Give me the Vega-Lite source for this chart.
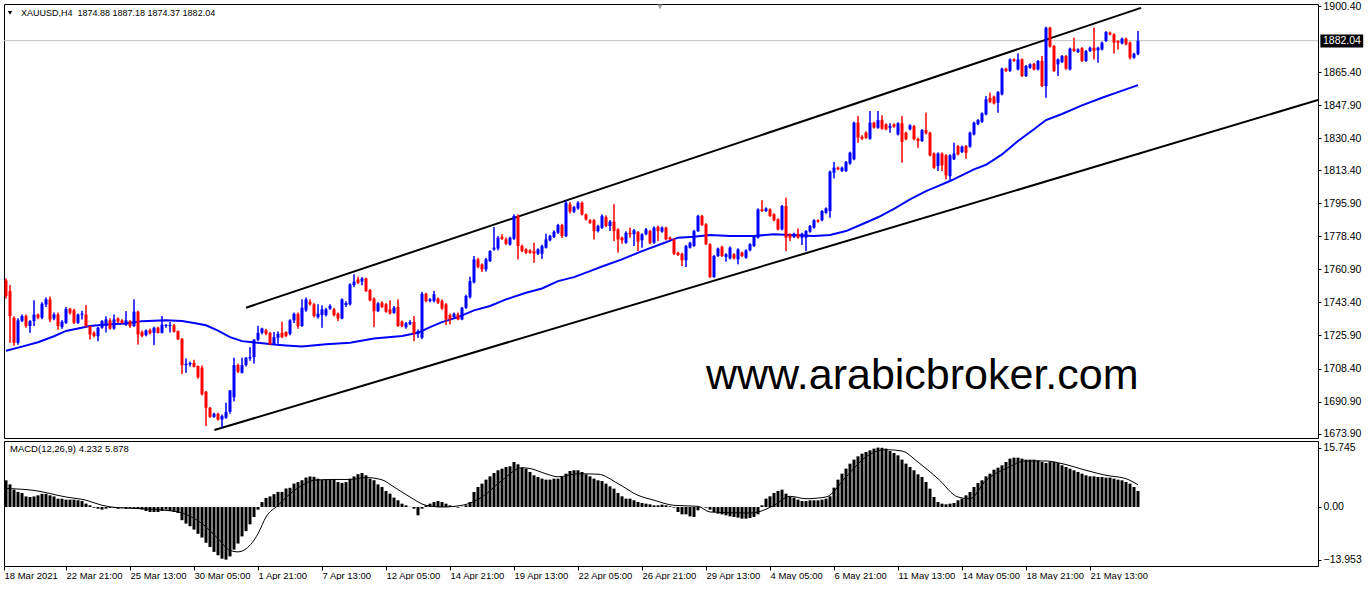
{
  "$schema": "https://vega.github.io/schema/vega-lite/v6.json",
  "background": "white",
  "padding": {"left": 1, "top": 0, "right": 0, "bottom": 0},
  "spacing": 3,
  "bounds": "flush",
  "config": {
    "view": {"stroke": "black", "strokeWidth": 1},
    "font": "Liberation Sans",
    "scale": {"continuousPadding": 0},
    "axis": {"labelFont": "Liberation Sans", "labelColor": "black", "tickColor": "black", "domain": false, "grid": false, "labelOverlap": false, "labelFlush": false}
  },
  "datasets": {
    "candles": [
{"i":0,"o":1755.1,"h":1756.0,"l":1745.5,"c":1746.8},
{"i":1,"o":1749.4,"h":1752.6,"l":1722.0,"c":1736.2},
{"i":2,"o":1735.3,"h":1736.0,"l":1720.5,"c":1722.0},
{"i":3,"o":1722.0,"h":1735.0,"l":1721.0,"c":1733.9},
{"i":4,"o":1733.5,"h":1737.0,"l":1733.0,"c":1736.2},
{"i":5,"o":1736.2,"h":1737.0,"l":1730.0,"c":1730.9},
{"i":6,"o":1730.9,"h":1734.0,"l":1727.3,"c":1733.5},
{"i":7,"o":1733.5,"h":1744.5,"l":1730.9,"c":1737.0},
{"i":8,"o":1737.0,"h":1737.5,"l":1734.5,"c":1735.3},
{"i":9,"o":1735.3,"h":1743.5,"l":1734.5,"c":1742.7},
{"i":10,"o":1742.3,"h":1746.0,"l":1741.0,"c":1745.0},
{"i":11,"o":1745.0,"h":1746.5,"l":1733.0,"c":1734.4},
{"i":12,"o":1734.9,"h":1738.0,"l":1734.0,"c":1737.0},
{"i":13,"o":1737.0,"h":1738.0,"l":1729.0,"c":1730.9},
{"i":14,"o":1730.3,"h":1734.0,"l":1729.5,"c":1733.2},
{"i":15,"o":1732.6,"h":1741.0,"l":1732.0,"c":1740.0},
{"i":16,"o":1740.0,"h":1740.5,"l":1737.0,"c":1737.9},
{"i":17,"o":1739.2,"h":1740.0,"l":1732.0,"c":1732.6},
{"i":18,"o":1732.6,"h":1737.5,"l":1732.0,"c":1737.0},
{"i":19,"o":1736.9,"h":1739.0,"l":1734.4,"c":1737.5},
{"i":20,"o":1737.0,"h":1742.0,"l":1730.0,"c":1730.9},
{"i":21,"o":1730.9,"h":1731.0,"l":1723.8,"c":1726.4},
{"i":22,"o":1727.3,"h":1728.0,"l":1725.0,"c":1725.6},
{"i":23,"o":1725.6,"h":1730.5,"l":1722.9,"c":1730.0},
{"i":24,"o":1730.0,"h":1734.0,"l":1729.5,"c":1733.5},
{"i":25,"o":1730.9,"h":1736.0,"l":1727.5,"c":1734.4},
{"i":26,"o":1733.9,"h":1735.0,"l":1729.0,"c":1729.6},
{"i":27,"o":1729.6,"h":1737.0,"l":1729.0,"c":1734.4},
{"i":28,"o":1734.9,"h":1735.5,"l":1732.5,"c":1733.2},
{"i":29,"o":1733.9,"h":1734.5,"l":1732.0,"c":1732.6},
{"i":30,"o":1731.7,"h":1738.8,"l":1731.0,"c":1733.9},
{"i":31,"o":1733.5,"h":1734.0,"l":1730.0,"c":1730.9},
{"i":32,"o":1730.9,"h":1745.0,"l":1730.5,"c":1738.5},
{"i":33,"o":1738.5,"h":1739.0,"l":1721.1,"c":1726.4},
{"i":34,"o":1727.7,"h":1728.5,"l":1725.0,"c":1725.6},
{"i":35,"o":1726.1,"h":1729.0,"l":1725.5,"c":1728.6},
{"i":36,"o":1728.7,"h":1729.5,"l":1726.5,"c":1727.0},
{"i":37,"o":1727.3,"h":1730.5,"l":1720.8,"c":1730.0},
{"i":38,"o":1730.0,"h":1730.5,"l":1727.0,"c":1727.3},
{"i":39,"o":1727.3,"h":1736.2,"l":1727.0,"c":1731.7},
{"i":40,"o":1730.9,"h":1732.0,"l":1730.0,"c":1731.5},
{"i":41,"o":1730.9,"h":1733.0,"l":1727.5,"c":1731.5},
{"i":42,"o":1731.2,"h":1732.0,"l":1727.5,"c":1727.9},
{"i":43,"o":1728.2,"h":1728.5,"l":1723.5,"c":1723.8},
{"i":44,"o":1724.2,"h":1724.5,"l":1705.5,"c":1710.2},
{"i":45,"o":1710.2,"h":1713.7,"l":1706.1,"c":1710.9},
{"i":46,"o":1710.6,"h":1712.0,"l":1709.5,"c":1711.4},
{"i":47,"o":1711.4,"h":1713.0,"l":1709.0,"c":1709.3},
{"i":48,"o":1709.7,"h":1710.0,"l":1703.0,"c":1703.8},
{"i":49,"o":1708.8,"h":1710.0,"l":1694.2,"c":1694.7},
{"i":50,"o":1696.1,"h":1696.5,"l":1677.9,"c":1687.6},
{"i":51,"o":1687.6,"h":1688.0,"l":1682.3,"c":1682.8},
{"i":52,"o":1682.8,"h":1685.0,"l":1682.3,"c":1684.4},
{"i":53,"o":1684.4,"h":1684.9,"l":1680.8,"c":1681.4},
{"i":54,"o":1681.4,"h":1684.0,"l":1677.0,"c":1683.2},
{"i":55,"o":1682.3,"h":1690.3,"l":1681.8,"c":1685.5},
{"i":56,"o":1685.5,"h":1697.0,"l":1684.5,"c":1696.8},
{"i":57,"o":1693.2,"h":1714.1,"l":1691.0,"c":1710.2},
{"i":58,"o":1710.2,"h":1711.0,"l":1706.0,"c":1706.7},
{"i":59,"o":1706.1,"h":1714.1,"l":1705.8,"c":1710.2},
{"i":60,"o":1710.2,"h":1714.5,"l":1709.5,"c":1714.1},
{"i":61,"o":1713.7,"h":1719.7,"l":1712.5,"c":1714.4},
{"i":62,"o":1714.4,"h":1724.0,"l":1711.0,"c":1723.6},
{"i":63,"o":1723.6,"h":1731.0,"l":1723.0,"c":1727.3},
{"i":64,"o":1727.3,"h":1730.0,"l":1726.5,"c":1729.6},
{"i":65,"o":1728.6,"h":1729.4,"l":1726.0,"c":1726.8},
{"i":66,"o":1727.3,"h":1727.7,"l":1720.8,"c":1721.1},
{"i":67,"o":1721.5,"h":1727.7,"l":1721.0,"c":1725.0},
{"i":68,"o":1724.7,"h":1728.0,"l":1721.6,"c":1726.8},
{"i":69,"o":1727.3,"h":1733.2,"l":1724.5,"c":1725.0},
{"i":70,"o":1727.7,"h":1728.0,"l":1725.0,"c":1725.6},
{"i":71,"o":1726.8,"h":1734.5,"l":1726.0,"c":1733.9},
{"i":72,"o":1733.9,"h":1738.0,"l":1732.5,"c":1737.4},
{"i":73,"o":1737.4,"h":1738.0,"l":1729.5,"c":1730.9},
{"i":74,"o":1730.9,"h":1745.0,"l":1730.5,"c":1740.6},
{"i":75,"o":1739.2,"h":1746.0,"l":1738.5,"c":1745.0},
{"i":76,"o":1743.6,"h":1745.0,"l":1741.8,"c":1742.4},
{"i":77,"o":1742.4,"h":1743.0,"l":1735.5,"c":1736.2},
{"i":78,"o":1735.6,"h":1742.4,"l":1734.9,"c":1737.4},
{"i":79,"o":1736.7,"h":1741.8,"l":1730.0,"c":1739.7},
{"i":80,"o":1736.7,"h":1740.5,"l":1736.0,"c":1739.7},
{"i":81,"o":1740.1,"h":1742.4,"l":1739.5,"c":1741.6},
{"i":82,"o":1739.7,"h":1740.5,"l":1736.0,"c":1736.7},
{"i":83,"o":1737.4,"h":1738.0,"l":1733.5,"c":1734.9},
{"i":84,"o":1734.9,"h":1745.5,"l":1734.5,"c":1745.0},
{"i":85,"o":1742.0,"h":1744.0,"l":1741.0,"c":1743.1},
{"i":86,"o":1742.4,"h":1753.5,"l":1741.8,"c":1752.9},
{"i":87,"o":1752.6,"h":1758.3,"l":1751.5,"c":1754.4},
{"i":88,"o":1755.6,"h":1757.0,"l":1753.2,"c":1753.8},
{"i":89,"o":1754.4,"h":1756.8,"l":1752.5,"c":1756.1},
{"i":90,"o":1756.1,"h":1756.5,"l":1749.0,"c":1749.4},
{"i":91,"o":1750.0,"h":1750.5,"l":1744.0,"c":1744.5},
{"i":92,"o":1745.4,"h":1746.0,"l":1730.3,"c":1738.8},
{"i":93,"o":1738.8,"h":1743.5,"l":1738.3,"c":1742.9},
{"i":94,"o":1743.2,"h":1744.0,"l":1740.5,"c":1741.0},
{"i":95,"o":1742.4,"h":1743.0,"l":1738.0,"c":1738.5},
{"i":96,"o":1739.7,"h":1744.5,"l":1737.0,"c":1737.6},
{"i":97,"o":1737.8,"h":1741.5,"l":1737.5,"c":1740.6},
{"i":98,"o":1741.0,"h":1745.0,"l":1730.5,"c":1730.9},
{"i":99,"o":1733.2,"h":1733.8,"l":1730.3,"c":1730.9},
{"i":100,"o":1730.3,"h":1733.0,"l":1729.5,"c":1732.3},
{"i":101,"o":1731.8,"h":1734.0,"l":1731.4,"c":1733.0},
{"i":102,"o":1733.0,"h":1736.2,"l":1722.9,"c":1726.8},
{"i":103,"o":1726.8,"h":1729.0,"l":1724.7,"c":1728.2},
{"i":104,"o":1724.7,"h":1749.0,"l":1724.0,"c":1748.0},
{"i":105,"o":1748.0,"h":1748.5,"l":1743.5,"c":1744.1},
{"i":106,"o":1744.1,"h":1745.7,"l":1743.5,"c":1745.0},
{"i":107,"o":1744.1,"h":1749.5,"l":1743.5,"c":1747.7},
{"i":108,"o":1745.5,"h":1746.0,"l":1742.6,"c":1743.2},
{"i":109,"o":1744.1,"h":1745.0,"l":1739.5,"c":1740.2},
{"i":110,"o":1742.4,"h":1743.0,"l":1731.4,"c":1734.4},
{"i":111,"o":1736.7,"h":1737.5,"l":1731.8,"c":1734.4},
{"i":112,"o":1735.6,"h":1738.0,"l":1734.9,"c":1737.4},
{"i":113,"o":1737.1,"h":1738.0,"l":1734.0,"c":1734.4},
{"i":114,"o":1734.4,"h":1741.0,"l":1734.0,"c":1740.6},
{"i":115,"o":1740.6,"h":1747.5,"l":1740.0,"c":1746.8},
{"i":116,"o":1746.2,"h":1757.0,"l":1745.5,"c":1754.7},
{"i":117,"o":1754.0,"h":1768.0,"l":1753.5,"c":1766.2},
{"i":118,"o":1766.2,"h":1767.0,"l":1761.5,"c":1762.1},
{"i":119,"o":1763.5,"h":1764.0,"l":1759.5,"c":1760.9},
{"i":120,"o":1760.9,"h":1767.0,"l":1759.8,"c":1766.2},
{"i":121,"o":1765.3,"h":1771.0,"l":1764.8,"c":1770.6},
{"i":122,"o":1771.5,"h":1783.3,"l":1770.8,"c":1772.4},
{"i":123,"o":1772.0,"h":1778.5,"l":1771.0,"c":1777.7},
{"i":124,"o":1778.0,"h":1779.5,"l":1776.5,"c":1777.1},
{"i":125,"o":1776.8,"h":1777.8,"l":1773.8,"c":1774.5},
{"i":126,"o":1774.1,"h":1778.2,"l":1773.5,"c":1777.7},
{"i":127,"o":1777.1,"h":1790.0,"l":1776.5,"c":1789.2},
{"i":128,"o":1789.2,"h":1790.0,"l":1766.2,"c":1773.3},
{"i":129,"o":1773.3,"h":1774.0,"l":1770.0,"c":1770.6},
{"i":130,"o":1771.5,"h":1772.0,"l":1769.0,"c":1769.7},
{"i":131,"o":1771.0,"h":1771.5,"l":1769.2,"c":1769.7},
{"i":132,"o":1770.6,"h":1775.0,"l":1764.4,"c":1769.2},
{"i":133,"o":1769.2,"h":1772.0,"l":1768.5,"c":1771.5},
{"i":134,"o":1769.2,"h":1774.0,"l":1766.5,"c":1773.3},
{"i":135,"o":1772.4,"h":1779.8,"l":1772.0,"c":1776.8},
{"i":136,"o":1776.3,"h":1779.2,"l":1775.8,"c":1778.6},
{"i":137,"o":1778.0,"h":1781.5,"l":1777.5,"c":1780.9},
{"i":138,"o":1780.3,"h":1785.0,"l":1779.8,"c":1784.4},
{"i":139,"o":1784.4,"h":1785.0,"l":1777.5,"c":1778.6},
{"i":140,"o":1778.6,"h":1797.5,"l":1778.0,"c":1796.2},
{"i":141,"o":1795.3,"h":1796.5,"l":1790.5,"c":1791.5},
{"i":142,"o":1791.5,"h":1794.5,"l":1790.8,"c":1793.9},
{"i":143,"o":1793.2,"h":1797.0,"l":1792.5,"c":1796.2},
{"i":144,"o":1796.2,"h":1796.8,"l":1789.5,"c":1790.0},
{"i":145,"o":1790.0,"h":1790.5,"l":1786.8,"c":1787.4},
{"i":146,"o":1786.9,"h":1787.5,"l":1785.0,"c":1785.6},
{"i":147,"o":1786.9,"h":1787.5,"l":1776.8,"c":1781.2},
{"i":148,"o":1781.2,"h":1784.5,"l":1780.5,"c":1783.9},
{"i":149,"o":1782.9,"h":1790.0,"l":1782.3,"c":1789.2},
{"i":150,"o":1788.6,"h":1789.5,"l":1783.3,"c":1783.9},
{"i":151,"o":1783.9,"h":1787.0,"l":1781.2,"c":1786.2},
{"i":152,"o":1786.2,"h":1795.4,"l":1775.9,"c":1781.2},
{"i":153,"o":1782.1,"h":1782.6,"l":1769.8,"c":1776.8},
{"i":154,"o":1777.7,"h":1778.2,"l":1774.5,"c":1776.3},
{"i":155,"o":1775.0,"h":1781.0,"l":1774.5,"c":1780.3},
{"i":156,"o":1780.3,"h":1783.0,"l":1777.7,"c":1779.5},
{"i":157,"o":1779.5,"h":1782.2,"l":1773.3,"c":1781.6},
{"i":158,"o":1780.7,"h":1781.2,"l":1770.6,"c":1775.6},
{"i":159,"o":1776.3,"h":1780.0,"l":1772.4,"c":1779.5},
{"i":160,"o":1779.5,"h":1782.8,"l":1779.0,"c":1782.1},
{"i":161,"o":1781.2,"h":1781.8,"l":1774.2,"c":1775.0},
{"i":162,"o":1775.0,"h":1783.6,"l":1774.5,"c":1783.0},
{"i":163,"o":1783.3,"h":1784.0,"l":1775.9,"c":1781.2},
{"i":164,"o":1780.9,"h":1783.6,"l":1780.4,"c":1783.0},
{"i":165,"o":1783.0,"h":1783.5,"l":1776.3,"c":1776.8},
{"i":166,"o":1777.7,"h":1778.2,"l":1776.3,"c":1776.8},
{"i":167,"o":1776.8,"h":1777.3,"l":1768.5,"c":1769.2},
{"i":168,"o":1769.8,"h":1770.2,"l":1768.0,"c":1768.5},
{"i":169,"o":1769.2,"h":1769.7,"l":1762.7,"c":1765.7},
{"i":170,"o":1765.7,"h":1773.8,"l":1762.2,"c":1773.3},
{"i":171,"o":1772.4,"h":1775.5,"l":1772.0,"c":1775.0},
{"i":172,"o":1773.3,"h":1781.8,"l":1772.9,"c":1781.2},
{"i":173,"o":1781.2,"h":1789.8,"l":1780.7,"c":1789.2},
{"i":174,"o":1789.2,"h":1789.8,"l":1784.0,"c":1784.4},
{"i":175,"o":1784.8,"h":1785.3,"l":1773.8,"c":1774.2},
{"i":176,"o":1774.2,"h":1774.7,"l":1756.4,"c":1756.9},
{"i":177,"o":1756.9,"h":1768.5,"l":1756.4,"c":1768.0},
{"i":178,"o":1768.0,"h":1772.4,"l":1767.5,"c":1771.9},
{"i":179,"o":1772.9,"h":1773.4,"l":1767.5,"c":1768.0},
{"i":180,"o":1767.5,"h":1769.4,"l":1765.0,"c":1768.9},
{"i":181,"o":1766.7,"h":1773.0,"l":1766.2,"c":1772.4},
{"i":182,"o":1768.9,"h":1769.4,"l":1766.2,"c":1766.7},
{"i":183,"o":1766.2,"h":1772.0,"l":1763.6,"c":1771.5},
{"i":184,"o":1769.8,"h":1770.3,"l":1767.5,"c":1768.0},
{"i":185,"o":1767.1,"h":1771.5,"l":1766.6,"c":1771.0},
{"i":186,"o":1771.0,"h":1774.7,"l":1770.5,"c":1774.2},
{"i":187,"o":1773.3,"h":1779.1,"l":1772.8,"c":1778.6},
{"i":188,"o":1777.7,"h":1793.2,"l":1777.2,"c":1792.7},
{"i":189,"o":1792.7,"h":1797.5,"l":1791.3,"c":1791.8},
{"i":190,"o":1791.8,"h":1793.7,"l":1791.3,"c":1793.2},
{"i":191,"o":1792.7,"h":1793.2,"l":1788.7,"c":1789.2},
{"i":192,"o":1790.1,"h":1790.6,"l":1786.4,"c":1786.9},
{"i":193,"o":1787.4,"h":1787.9,"l":1781.6,"c":1782.1},
{"i":194,"o":1782.1,"h":1795.0,"l":1781.6,"c":1794.5},
{"i":195,"o":1794.5,"h":1798.9,"l":1770.6,"c":1777.7},
{"i":196,"o":1779.5,"h":1780.0,"l":1775.9,"c":1777.7},
{"i":197,"o":1778.0,"h":1780.3,"l":1777.5,"c":1779.8},
{"i":198,"o":1779.8,"h":1782.6,"l":1777.2,"c":1777.7},
{"i":199,"o":1777.7,"h":1780.3,"l":1773.8,"c":1779.8},
{"i":200,"o":1777.7,"h":1781.7,"l":1770.6,"c":1781.2},
{"i":201,"o":1780.9,"h":1784.4,"l":1780.4,"c":1783.9},
{"i":202,"o":1783.0,"h":1787.4,"l":1782.5,"c":1786.9},
{"i":203,"o":1786.9,"h":1787.4,"l":1785.7,"c":1786.2},
{"i":204,"o":1786.9,"h":1792.3,"l":1786.4,"c":1791.8},
{"i":205,"o":1790.9,"h":1793.7,"l":1790.4,"c":1793.2},
{"i":206,"o":1791.8,"h":1813.2,"l":1788.3,"c":1812.7},
{"i":207,"o":1812.1,"h":1817.8,"l":1809.1,"c":1814.8},
{"i":208,"o":1814.8,"h":1815.3,"l":1813.4,"c":1813.9},
{"i":209,"o":1813.0,"h":1815.3,"l":1812.5,"c":1814.8},
{"i":210,"o":1813.0,"h":1818.3,"l":1812.5,"c":1817.8},
{"i":211,"o":1816.9,"h":1823.2,"l":1816.4,"c":1822.7},
{"i":212,"o":1819.2,"h":1839.1,"l":1818.7,"c":1838.6},
{"i":213,"o":1838.6,"h":1842.1,"l":1828.0,"c":1830.7},
{"i":214,"o":1831.2,"h":1832.0,"l":1829.5,"c":1830.1},
{"i":215,"o":1833.3,"h":1834.0,"l":1830.0,"c":1830.6},
{"i":216,"o":1830.1,"h":1844.8,"l":1829.6,"c":1838.6},
{"i":217,"o":1838.6,"h":1839.1,"l":1835.5,"c":1836.0},
{"i":218,"o":1835.9,"h":1844.8,"l":1835.4,"c":1840.0},
{"i":219,"o":1840.0,"h":1842.5,"l":1834.9,"c":1835.4},
{"i":220,"o":1837.7,"h":1838.2,"l":1834.6,"c":1835.1},
{"i":221,"o":1835.9,"h":1838.3,"l":1833.3,"c":1836.8},
{"i":222,"o":1837.7,"h":1838.2,"l":1836.0,"c":1836.5},
{"i":223,"o":1832.4,"h":1838.8,"l":1831.9,"c":1838.3},
{"i":224,"o":1838.3,"h":1842.1,"l":1817.4,"c":1828.4},
{"i":225,"o":1833.3,"h":1833.8,"l":1829.3,"c":1829.8},
{"i":226,"o":1835.1,"h":1837.7,"l":1834.6,"c":1837.2},
{"i":227,"o":1836.8,"h":1837.3,"l":1829.3,"c":1829.8},
{"i":228,"o":1830.1,"h":1830.6,"l":1825.3,"c":1828.9},
{"i":229,"o":1828.9,"h":1835.2,"l":1828.4,"c":1834.7},
{"i":230,"o":1834.7,"h":1843.9,"l":1832.4,"c":1832.9},
{"i":231,"o":1833.3,"h":1833.8,"l":1820.8,"c":1821.3},
{"i":232,"o":1822.3,"h":1822.8,"l":1814.2,"c":1814.7},
{"i":233,"o":1815.6,"h":1822.8,"l":1813.0,"c":1822.3},
{"i":234,"o":1822.3,"h":1822.8,"l":1813.0,"c":1816.0},
{"i":235,"o":1821.3,"h":1821.8,"l":1808.6,"c":1810.7},
{"i":236,"o":1810.3,"h":1821.8,"l":1807.7,"c":1821.3},
{"i":237,"o":1819.2,"h":1828.0,"l":1818.8,"c":1822.3},
{"i":238,"o":1826.2,"h":1826.7,"l":1821.3,"c":1821.8},
{"i":239,"o":1823.0,"h":1826.4,"l":1822.5,"c":1825.9},
{"i":240,"o":1826.2,"h":1826.7,"l":1819.5,"c":1822.7},
{"i":241,"o":1825.9,"h":1833.8,"l":1825.4,"c":1833.3},
{"i":242,"o":1832.4,"h":1839.1,"l":1831.9,"c":1838.6},
{"i":243,"o":1837.8,"h":1840.5,"l":1837.3,"c":1840.0},
{"i":244,"o":1839.0,"h":1844.0,"l":1838.5,"c":1843.5},
{"i":245,"o":1843.0,"h":1852.7,"l":1842.5,"c":1851.0},
{"i":246,"o":1851.8,"h":1854.5,"l":1849.0,"c":1849.5},
{"i":247,"o":1852.4,"h":1852.9,"l":1848.3,"c":1848.8},
{"i":248,"o":1849.2,"h":1855.3,"l":1843.9,"c":1854.8},
{"i":249,"o":1853.6,"h":1867.7,"l":1853.1,"c":1867.2},
{"i":250,"o":1867.2,"h":1867.7,"l":1865.5,"c":1866.0},
{"i":251,"o":1866.0,"h":1872.6,"l":1865.5,"c":1872.1},
{"i":252,"o":1872.1,"h":1872.6,"l":1870.8,"c":1871.3},
{"i":253,"o":1866.8,"h":1875.3,"l":1866.3,"c":1872.1},
{"i":254,"o":1872.1,"h":1872.6,"l":1862.8,"c":1863.3},
{"i":255,"o":1863.3,"h":1869.1,"l":1862.8,"c":1868.6},
{"i":256,"o":1867.7,"h":1870.0,"l":1867.2,"c":1869.5},
{"i":257,"o":1869.8,"h":1870.3,"l":1866.3,"c":1866.8},
{"i":258,"o":1866.8,"h":1871.8,"l":1866.3,"c":1871.3},
{"i":259,"o":1871.3,"h":1873.9,"l":1857.5,"c":1858.0},
{"i":260,"o":1858.0,"h":1889.4,"l":1851.8,"c":1888.9},
{"i":261,"o":1888.9,"h":1889.4,"l":1878.4,"c":1878.9},
{"i":262,"o":1879.2,"h":1879.7,"l":1865.5,"c":1866.0},
{"i":263,"o":1869.5,"h":1872.6,"l":1863.3,"c":1872.1},
{"i":264,"o":1870.7,"h":1874.4,"l":1870.2,"c":1873.9},
{"i":265,"o":1873.9,"h":1874.4,"l":1866.7,"c":1867.2},
{"i":266,"o":1866.8,"h":1878.3,"l":1866.3,"c":1877.8},
{"i":267,"o":1877.8,"h":1883.6,"l":1876.1,"c":1876.6},
{"i":268,"o":1876.0,"h":1877.9,"l":1875.5,"c":1877.4},
{"i":269,"o":1878.1,"h":1878.6,"l":1870.8,"c":1871.3},
{"i":270,"o":1871.3,"h":1877.1,"l":1870.8,"c":1876.6},
{"i":271,"o":1876.6,"h":1878.8,"l":1876.1,"c":1878.3},
{"i":272,"o":1878.3,"h":1888.9,"l":1872.1,"c":1876.6},
{"i":273,"o":1876.9,"h":1878.8,"l":1870.4,"c":1878.3},
{"i":274,"o":1877.4,"h":1881.5,"l":1876.9,"c":1881.0},
{"i":275,"o":1881.9,"h":1887.1,"l":1881.4,"c":1886.6},
{"i":276,"o":1886.3,"h":1886.8,"l":1884.9,"c":1885.4},
{"i":277,"o":1885.4,"h":1885.9,"l":1875.3,"c":1881.0},
{"i":278,"o":1881.9,"h":1882.4,"l":1877.4,"c":1881.0},
{"i":279,"o":1880.6,"h":1883.6,"l":1880.1,"c":1883.1},
{"i":280,"o":1883.1,"h":1883.6,"l":1879.6,"c":1880.1},
{"i":281,"o":1881.0,"h":1881.5,"l":1872.1,"c":1873.0},
{"i":282,"o":1873.0,"h":1875.6,"l":1872.5,"c":1875.1},
{"i":283,"o":1874.88,"h":1887.18,"l":1874.37,"c":1882.04}
    ],
    "ma": [
{"i":0,"v":1717.8},{"i":4,"v":1720.0},{"i":8,"v":1722.3},{"i":12,"v":1725.5},{"i":15,"v":1728.3},{"i":18,"v":1729.6},{"i":21,"v":1730.9},{"i":25,"v":1731.7},{"i":30,"v":1732.2},{"i":34,"v":1733.5},{"i":40,"v":1733.9},{"i":44,"v":1733.6},{"i":47,"v":1732.5},{"i":50,"v":1731.3},{"i":53,"v":1728.5},{"i":56,"v":1725.0},{"i":59,"v":1722.9},{"i":63,"v":1722.0},{"i":67,"v":1721.1},{"i":70,"v":1720.6},{"i":74,"v":1720.0},{"i":80,"v":1721.2},{"i":86,"v":1722.1},{"i":92,"v":1724.3},{"i":99,"v":1725.6},{"i":103,"v":1727.3},{"i":106,"v":1730.3},{"i":109,"v":1733.0},{"i":113,"v":1735.6},{"i":117,"v":1739.2},{"i":121,"v":1741.5},{"i":125,"v":1745.0},{"i":130,"v":1748.5},{"i":134,"v":1750.8},{"i":138,"v":1754.7},{"i":142,"v":1756.8},{"i":146,"v":1760.0},{"i":149,"v":1762.4},{"i":154,"v":1766.2},{"i":159,"v":1770.6},{"i":164,"v":1774.5},{"i":168,"v":1777.7},{"i":172,"v":1778.2},{"i":176,"v":1779.1},{"i":181,"v":1778.6},{"i":187,"v":1778.6},{"i":192,"v":1779.5},{"i":196,"v":1779.1},{"i":202,"v":1778.6},{"i":206,"v":1779.1},{"i":210,"v":1781.2},{"i":214,"v":1784.8},{"i":218,"v":1788.5},{"i":222,"v":1793.0},{"i":226,"v":1798.0},{"i":230,"v":1802.4},{"i":233,"v":1805.0},{"i":236,"v":1807.7},{"i":242,"v":1813.9},{"i":245,"v":1816.3},{"i":249,"v":1821.8},{"i":253,"v":1828.9},{"i":257,"v":1835.1},{"i":260,"v":1840.0},{"i":264,"v":1843.2},{"i":269,"v":1847.8},{"i":274,"v":1851.8},{"i":278,"v":1854.8},{"i":283,"v":1858.5}
    ],
    "channel": [
{"line":"upper","i":60,"p":1740.6},{"line":"upper","i":283.75,"p":1899.4},
{"line":"lower","i":52.1,"p":1675.8},{"line":"lower","i":328,"p":1850.6}
    ],
    "macd": [
{"i":0,"m":7.07},{"i":1,"m":6.0},{"i":2,"m":4.6},{"i":3,"m":4.0},{"i":4,"m":3.7},{"i":5,"m":2.8},{"i":6,"m":2.65},{"i":7,"m":2.8},{"i":8,"m":3.1},{"i":9,"m":3.5},
{"i":10,"m":3.5},{"i":11,"m":3.1},{"i":12,"m":2.8},{"i":13,"m":2.2},{"i":14,"m":2.2},{"i":15,"m":1.95},{"i":16,"m":1.95},{"i":17,"m":1.95},{"i":18,"m":1.8},{"i":19,"m":1.6},
{"i":20,"m":0.9},{"i":21,"m":0.45},{"i":22,"m":-0.2},{"i":23,"m":-0.45},{"i":24,"m":-0.7},{"i":25,"m":-0.45},{"i":26,"m":-0.25},{"i":27,"m":-0.2},{"i":28,"m":-0.45},{"i":29,"m":-0.2},
{"i":30,"m":-0.45},{"i":31,"m":-0.25},{"i":32,"m":-0.25},{"i":33,"m":-0.45},{"i":34,"m":-0.7},{"i":35,"m":-1.06},{"i":36,"m":-1.33},{"i":37,"m":-1.33},{"i":38,"m":-1.33},{"i":39,"m":-1.06},
{"i":40,"m":-0.7},{"i":41,"m":-1.06},{"i":42,"m":-1.33},{"i":43,"m":-1.6},{"i":44,"m":-3.5},{"i":45,"m":-4.4},{"i":46,"m":-5.1},{"i":47,"m":-6.0},{"i":48,"m":-7.1},{"i":49,"m":-8.1},
{"i":50,"m":-9.5},{"i":51,"m":-10.6},{"i":52,"m":-11.9},{"i":53,"m":-12.8},{"i":54,"m":-13.7},{"i":55,"m":-13.95},{"i":56,"m":-13.1},{"i":57,"m":-11.3},{"i":58,"m":-9.7},{"i":59,"m":-7.8},
{"i":60,"m":-6.4},{"i":61,"m":-4.6},{"i":62,"m":-2.65},{"i":63,"m":-0.7},{"i":64,"m":1.3},{"i":65,"m":2.4},{"i":66,"m":2.8},{"i":67,"m":3.4},{"i":68,"m":4.0},{"i":69,"m":4.0},
{"i":70,"m":4.9},{"i":71,"m":5.1},{"i":72,"m":6.2},{"i":73,"m":6.6},{"i":74,"m":7.1},{"i":75,"m":7.8},{"i":76,"m":8.1},{"i":77,"m":8.0},{"i":78,"m":7.5},{"i":79,"m":7.25},
{"i":80,"m":7.25},{"i":81,"m":7.25},{"i":82,"m":7.25},{"i":83,"m":6.6},{"i":84,"m":6.4},{"i":85,"m":6.6},{"i":86,"m":7.5},{"i":87,"m":8.1},{"i":88,"m":8.7},{"i":89,"m":9.0},
{"i":90,"m":8.4},{"i":91,"m":7.5},{"i":92,"m":7.1},{"i":93,"m":6.0},{"i":94,"m":5.31},{"i":95,"m":4.24},{"i":96,"m":3.54},{"i":97,"m":2.48},{"i":98,"m":1.77},{"i":99,"m":0.88},
{"i":100,"m":0.44},{"i":101,"m":0.05},{"i":102,"m":-0.44},{"i":103,"m":-2.21},{"i":104,"m":-0.44},{"i":105,"m":0.44},{"i":106,"m":0.88},{"i":107,"m":1.33},{"i":108,"m":1.59},{"i":109,"m":1.33},
{"i":110,"m":0.88},{"i":111,"m":0.44},{"i":112,"m":0.18},{"i":113,"m":-0.18},{"i":114,"m":0.05},{"i":115,"m":0.44},{"i":116,"m":1.33},{"i":117,"m":3.98},{"i":118,"m":5.31},{"i":119,"m":6.19},
{"i":120,"m":7.25},{"i":121,"m":8.13},{"i":122,"m":9.02},{"i":123,"m":9.73},{"i":124,"m":10.17},{"i":125,"m":10.61},{"i":126,"m":10.79},{"i":127,"m":11.94},{"i":128,"m":11.32},{"i":129,"m":10.43},
{"i":130,"m":10.17},{"i":131,"m":9.28},{"i":132,"m":8.4},{"i":133,"m":7.96},{"i":134,"m":7.52},{"i":135,"m":7.25},{"i":136,"m":7.25},{"i":137,"m":7.52},{"i":138,"m":7.52},{"i":139,"m":7.96},
{"i":140,"m":8.84},{"i":141,"m":9.55},{"i":142,"m":9.73},{"i":143,"m":9.73},{"i":144,"m":9.28},{"i":145,"m":8.66},{"i":146,"m":8.13},{"i":147,"m":7.52},{"i":148,"m":7.07},{"i":149,"m":6.9},
{"i":150,"m":6.19},{"i":151,"m":5.48},{"i":152,"m":4.86},{"i":153,"m":3.71},{"i":154,"m":2.83},{"i":155,"m":2.21},{"i":156,"m":2.21},{"i":157,"m":1.77},{"i":158,"m":1.33},{"i":159,"m":1.06},
{"i":160,"m":0.88},{"i":161,"m":0.71},{"i":162,"m":0.44},{"i":163,"m":0.44},{"i":164,"m":0.62},{"i":165,"m":0.44},{"i":166,"m":0.18},{"i":167,"m":-0.18},{"i":168,"m":-1.33},{"i":169,"m":-1.95},
{"i":170,"m":-1.95},{"i":171,"m":-2.48},{"i":172,"m":-2.65},{"i":173,"m":-0.88},{"i":174,"m":-0.05},{"i":175,"m":-0.18},{"i":176,"m":-0.71},{"i":177,"m":-1.33},{"i":178,"m":-1.77},{"i":179,"m":-1.95},
{"i":180,"m":-2.21},{"i":181,"m":-2.48},{"i":182,"m":-2.65},{"i":183,"m":-2.83},{"i":184,"m":-3.09},{"i":185,"m":-3.09},{"i":186,"m":-2.92},{"i":187,"m":-2.65},{"i":188,"m":-1.95},{"i":189,"m":0.44},
{"i":190,"m":2.21},{"i":191,"m":2.83},{"i":192,"m":3.71},{"i":193,"m":4.24},{"i":194,"m":4.6},{"i":195,"m":3.54},{"i":196,"m":2.65},{"i":197,"m":2.48},{"i":198,"m":1.95},{"i":199,"m":1.59},
{"i":200,"m":1.59},{"i":201,"m":1.77},{"i":202,"m":1.77},{"i":203,"m":1.77},{"i":204,"m":1.95},{"i":205,"m":2.21},{"i":206,"m":2.83},{"i":207,"m":5.13},{"i":208,"m":7.25},{"i":209,"m":8.84},
{"i":210,"m":10.17},{"i":211,"m":11.49},{"i":212,"m":12.56},{"i":213,"m":13.44},{"i":214,"m":14.15},{"i":215,"m":14.59},{"i":216,"m":15.03},{"i":217,"m":15.47},{"i":218,"m":15.745},{"i":219,"m":15.7},
{"i":220,"m":15.47},{"i":221,"m":14.85},{"i":222,"m":14.32},{"i":223,"m":13.7},{"i":224,"m":12.56},{"i":225,"m":11.49},{"i":226,"m":10.61},{"i":227,"m":9.73},{"i":228,"m":8.66},{"i":229,"m":7.96},
{"i":230,"m":6.63},{"i":231,"m":4.86},{"i":232,"m":2.65},{"i":233,"m":1.33},{"i":234,"m":0.88},{"i":235,"m":0.71},{"i":236,"m":0.88},{"i":237,"m":1.06},{"i":238,"m":1.77},{"i":239,"m":2.21},
{"i":240,"m":3.09},{"i":241,"m":3.98},{"i":242,"m":5.31},{"i":243,"m":6.37},{"i":244,"m":7.07},{"i":245,"m":8.13},{"i":246,"m":8.84},{"i":247,"m":9.9},{"i":248,"m":10.43},{"i":249,"m":11.05},
{"i":250,"m":11.94},{"i":251,"m":12.82},{"i":252,"m":13.09},{"i":253,"m":13.09},{"i":254,"m":12.82},{"i":255,"m":12.56},{"i":256,"m":12.56},{"i":257,"m":12.56},{"i":258,"m":12.38},{"i":259,"m":11.94},
{"i":260,"m":11.67},{"i":261,"m":11.94},{"i":262,"m":11.94},{"i":263,"m":11.67},{"i":264,"m":11.05},{"i":265,"m":10.61},{"i":266,"m":10.17},{"i":267,"m":9.73},{"i":268,"m":9.28},{"i":269,"m":8.84},
{"i":270,"m":8.4},{"i":271,"m":8.13},{"i":272,"m":8.13},{"i":273,"m":7.96},{"i":274,"m":7.96},{"i":275,"m":7.78},{"i":276,"m":7.78},{"i":277,"m":7.52},{"i":278,"m":7.25},{"i":279,"m":7.07},
{"i":280,"m":6.63},{"i":281,"m":6.19},{"i":282,"m":5.31},{"i":283,"m":4.232}
    ],
    "signal": [
{"i":0,"s":4.9},{"i":7,"s":4.4},{"i":15,"s":2.65},{"i":20,"s":1.8},{"i":24,"s":0.45},{"i":28,"s":-0.2},{"i":34,"s":-0.45},{"i":40,"s":-0.9},{"i":43,"s":-1.3},{"i":49,"s":-4.4},{"i":53,"s":-8.4},{"i":56,"s":-11.5},{"i":58,"s":-11.9},{"i":60,"s":-11.1},{"i":63,"s":-7.1},{"i":65,"s":-2.65},{"i":68,"s":0.45},{"i":71,"s":3.5},{"i":74,"s":5.7},{"i":77,"s":7.1},{"i":82,"s":7.3},{"i":86,"s":7.3},{"i":90,"s":7.8},{"i":94,"s":7.2},{"i":97,"s":5.3},{"i":101,"s":2.65},{"i":105,"s":0.44},{"i":109,"s":0.0},{"i":114,"s":0.44},{"i":119,"s":2.65},{"i":124,"s":7.07},{"i":129,"s":10.4},{"i":131,"s":10.2},{"i":135,"s":8.8},{"i":138,"s":8.0},{"i":143,"s":8.8},{"i":148,"s":8.7},{"i":153,"s":6.2},{"i":158,"s":3.1},{"i":162,"s":1.8},{"i":167,"s":0.44},{"i":173,"s":0.18},{"i":176,"s":-1.33},{"i":186,"s":-1.6},{"i":188,"s":-1.33},{"i":192,"s":0.44},{"i":196,"s":2.83},{"i":200,"s":2.2},{"i":205,"s":2.65},{"i":210,"s":7.96},{"i":215,"s":13.3},{"i":220,"s":15.2},{"i":224,"s":14.85},{"i":228,"s":11.9},{"i":233,"s":7.5},{"i":238,"s":2.65},{"i":241,"s":2.2},{"i":245,"s":7.07},{"i":250,"s":10.2},{"i":255,"s":12.2},{"i":260,"s":12.2},{"i":264,"s":11.5},{"i":270,"s":9.73},{"i":275,"s":8.4},{"i":280,"s":7.5},{"i":283,"s":5.878}
    ]
  },
  "vconcat": [
    {
      "width": 1314,
      "height": 434,
      "layer": [
        {
          "data": {"name": "candles"},
          "mark": {"type": "rule", "strokeWidth": 1},
          "encoding": {
            "x": {"field": "i", "type": "quantitative", "axis": null, "scale": {"domain": [-0.5, 328], "nice": false, "zero": false, "padding": 0}},
            "y": {"field": "l", "type": "quantitative", "scale": {"domain": [1671.6, 1901.46], "nice": false, "zero": false, "padding": 0},
                  "axis": {"orient": "right", "title": null, "values": [1900.4, 1865.4, 1847.9, 1830.4, 1813.4, 1795.9, 1778.4, 1760.9, 1743.4, 1725.9, 1708.4, 1690.9, 1673.9], "format": ".2f", "labelFontSize": 10.5, "tickSize": 3, "labelPadding": 2, "labelAlign": "left", "labelBaseline": "middle", "labelFlush": false, "labelOverlap": false}},
            "y2": {"field": "h"},
            "color": {"condition": {"test": "datum.c >= datum.o", "value": "#0000ff"}, "value": "#ff0000"}
          }
        },
        {
          "data": {"values": [{}]},
          "mark": {"type": "rule", "color": "#c0c0c0", "strokeWidth": 1},
          "encoding": {"y": {"datum": 1882.04, "type": "quantitative",
                  "axis": {"orient": "right", "title": null, "values": [1900.4, 1865.4, 1847.9, 1830.4, 1813.4, 1795.9, 1778.4, 1760.9, 1743.4, 1725.9, 1708.4, 1690.9, 1673.9], "format": ".2f", "labelFontSize": 10.5, "tickSize": 3, "labelPadding": 2, "labelAlign": "left", "labelBaseline": "middle", "labelFlush": false, "labelOverlap": false}}}
        },
        {
          "data": {"name": "channel"},
          "mark": {"type": "line", "color": "black", "strokeWidth": 2, "clip": true},
          "encoding": {
            "x": {"field": "i", "type": "quantitative", "axis": null},
            "y": {"field": "p", "type": "quantitative",
                  "axis": {"orient": "right", "title": null, "values": [1900.4, 1865.4, 1847.9, 1830.4, 1813.4, 1795.9, 1778.4, 1760.9, 1743.4, 1725.9, 1708.4, 1690.9, 1673.9], "format": ".2f", "labelFontSize": 10.5, "tickSize": 3, "labelPadding": 2, "labelAlign": "left", "labelBaseline": "middle", "labelFlush": false, "labelOverlap": false}},
            "detail": {"field": "line"}
          }
        },
        {
          "data": {"name": "ma"},
          "mark": {"type": "line", "color": "#0000ff", "strokeWidth": 2},
          "encoding": {
            "x": {"field": "i", "type": "quantitative", "axis": null},
            "y": {"field": "v", "type": "quantitative",
                  "axis": {"orient": "right", "title": null, "values": [1900.4, 1865.4, 1847.9, 1830.4, 1813.4, 1795.9, 1778.4, 1760.9, 1743.4, 1725.9, 1708.4, 1690.9, 1673.9], "format": ".2f", "labelFontSize": 10.5, "tickSize": 3, "labelPadding": 2, "labelAlign": "left", "labelBaseline": "middle", "labelFlush": false, "labelOverlap": false}}
          }
        },
        {
          "data": {"name": "candles"},
          "mark": {"type": "rule", "strokeWidth": 1},
          "encoding": {
            "x": {"field": "i", "type": "quantitative", "axis": null},
            "y": {"field": "l", "type": "quantitative",
                  "axis": {"orient": "right", "title": null, "values": [1900.4, 1865.4, 1847.9, 1830.4, 1813.4, 1795.9, 1778.4, 1760.9, 1743.4, 1725.9, 1708.4, 1690.9, 1673.9], "format": ".2f", "labelFontSize": 10.5, "tickSize": 3, "labelPadding": 2, "labelAlign": "left", "labelBaseline": "middle", "labelFlush": false, "labelOverlap": false}},
            "y2": {"field": "h"},
            "color": {"condition": {"test": "datum.c >= datum.o", "value": "#0000ff"}, "value": "#ff0000"}
          }
        },
        {
          "data": {"name": "candles"},
          "mark": {"type": "bar", "size": 3},
          "encoding": {
            "x": {"field": "i", "type": "quantitative", "axis": null},
            "y": {"field": "o", "type": "quantitative",
                  "axis": {"orient": "right", "title": null, "values": [1900.4, 1865.4, 1847.9, 1830.4, 1813.4, 1795.9, 1778.4, 1760.9, 1743.4, 1725.9, 1708.4, 1690.9, 1673.9], "format": ".2f", "labelFontSize": 10.5, "tickSize": 3, "labelPadding": 2, "labelAlign": "left", "labelBaseline": "middle", "labelFlush": false, "labelOverlap": false}},
            "y2": {"field": "c"},
            "color": {"condition": {"test": "datum.c >= datum.o", "value": "#0000ff"}, "value": "#ff0000"}
          }
        },
        {
          "data": {"values": [{}]},
          "mark": {"type": "text", "text": "www.arabicbroker.com", "font": "Liberation Sans", "fontSize": 43, "color": "black", "align": "left", "baseline": "alphabetic"},
          "encoding": {
            "x": {"datum": 175, "type": "quantitative", "axis": null},
            "y": {"datum": 1697.5, "type": "quantitative",
                  "axis": {"orient": "right", "title": null, "values": [1900.4, 1865.4, 1847.9, 1830.4, 1813.4, 1795.9, 1778.4, 1760.9, 1743.4, 1725.9, 1708.4, 1690.9, 1673.9], "format": ".2f", "labelFontSize": 10.5, "tickSize": 3, "labelPadding": 2, "labelAlign": "left", "labelBaseline": "middle", "labelFlush": false, "labelOverlap": false}}
          }
        },
        {
          "data": {"values": [{}]},
          "mark": {"type": "text", "text": "XAUUSD,H4\u00a0 1874.88 1887.18 1874.37 1882.04", "font": "Liberation Sans", "fontSize": 9, "color": "black", "align": "left", "baseline": "middle"},
          "encoding": {
            "x": {"datum": 3.75, "type": "quantitative", "axis": null},
            "y": {"datum": 1896.7, "type": "quantitative",
                  "axis": {"orient": "right", "title": null, "values": [1900.4, 1865.4, 1847.9, 1830.4, 1813.4, 1795.9, 1778.4, 1760.9, 1743.4, 1725.9, 1708.4, 1690.9, 1673.9], "format": ".2f", "labelFontSize": 10.5, "tickSize": 3, "labelPadding": 2, "labelAlign": "left", "labelBaseline": "middle", "labelFlush": false, "labelOverlap": false}}
          }
        },
        {
          "data": {"values": [{}]},
          "mark": {"type": "point", "shape": "triangle-down", "filled": true, "color": "black", "size": 18, "opacity": 1},
          "encoding": {
            "x": {"datum": 1, "type": "quantitative", "axis": null},
            "y": {"datum": 1896.8, "type": "quantitative",
                  "axis": {"orient": "right", "title": null, "values": [1900.4, 1865.4, 1847.9, 1830.4, 1813.4, 1795.9, 1778.4, 1760.9, 1743.4, 1725.9, 1708.4, 1690.9, 1673.9], "format": ".2f", "labelFontSize": 10.5, "tickSize": 3, "labelPadding": 2, "labelAlign": "left", "labelBaseline": "middle", "labelFlush": false, "labelOverlap": false}}
          }
        },
        {
          "data": {"values": [{}]},
          "mark": {"type": "point", "shape": "triangle-down", "filled": true, "color": "#a0a0a0", "size": 30, "opacity": 1},
          "encoding": {
            "x": {"datum": 163.5, "type": "quantitative", "axis": null},
            "y": {"datum": 1899.9, "type": "quantitative",
                  "axis": {"orient": "right", "title": null, "values": [1900.4, 1865.4, 1847.9, 1830.4, 1813.4, 1795.9, 1778.4, 1760.9, 1743.4, 1725.9, 1708.4, 1690.9, 1673.9], "format": ".2f", "labelFontSize": 10.5, "tickSize": 3, "labelPadding": 2, "labelAlign": "left", "labelBaseline": "middle", "labelFlush": false, "labelOverlap": false}}
          }
        },
        {
          "data": {"values": [{}]},
          "mark": {"type": "rect", "color": "black"},
          "encoding": {
            "x": {"datum": 328.6, "type": "quantitative", "axis": null},
            "x2": {"datum": 339.3},
            "y": {"datum": 1885.3, "type": "quantitative",
                  "axis": {"orient": "right", "title": null, "values": [1900.4, 1865.4, 1847.9, 1830.4, 1813.4, 1795.9, 1778.4, 1760.9, 1743.4, 1725.9, 1708.4, 1690.9, 1673.9], "format": ".2f", "labelFontSize": 10.5, "tickSize": 3, "labelPadding": 2, "labelAlign": "left", "labelBaseline": "middle", "labelFlush": false, "labelOverlap": false}},
            "y2": {"datum": 1878.4}
          }
        },
        {
          "data": {"values": [{}]},
          "mark": {"type": "text", "text": "1882.04", "font": "Liberation Sans", "fontSize": 10.5, "color": "white", "align": "left", "baseline": "middle"},
          "encoding": {
            "x": {"datum": 329.25, "type": "quantitative", "axis": null},
            "y": {"datum": 1881.9, "type": "quantitative",
                  "axis": {"orient": "right", "title": null, "values": [1900.4, 1865.4, 1847.9, 1830.4, 1813.4, 1795.9, 1778.4, 1760.9, 1743.4, 1725.9, 1708.4, 1690.9, 1673.9], "format": ".2f", "labelFontSize": 10.5, "tickSize": 3, "labelPadding": 2, "labelAlign": "left", "labelBaseline": "middle", "labelFlush": false, "labelOverlap": false}}
          }
        }
      ]
    },
    {
      "width": 1314,
      "height": 125,
      "layer": [
        {
          "data": {"name": "macd"},
          "mark": {"type": "bar", "size": 3, "color": "black"},
          "encoding": {
            "x": {"field": "i", "type": "quantitative", "scale": {"domain": [-0.5, 328], "nice": false, "zero": false, "padding": 0},
                  "axis": {"title": null, "values": [-0.5, 15, 31, 47, 63, 79, 95, 111, 127, 143, 159, 175, 191, 207, 223, 239, 255, 271],
                           "labelExpr": "['18 Mar 2021','22 Mar 21:00','25 Mar 13:00','30 Mar 05:00','1 Apr 21:00','7 Apr 13:00','12 Apr 05:00','14 Apr 21:00','19 Apr 13:00','22 Apr 05:00','26 Apr 21:00','29 Apr 13:00','4 May 05:00','6 May 21:00','11 May 13:00','14 May 05:00','18 May 21:00','21 May 13:00'][round((datum.value + 1) / 16)]",
                           "labelAlign": "left", "labelBaseline": "top", "labelPadding": 0, "tickSize": 4, "labelFontSize": 9.5, "labelFlush": false, "labelOverlap": false}},
            "y": {"field": "m", "type": "quantitative", "scale": {"domain": [-15.65, 17.5], "nice": false, "zero": false, "padding": 0},
                  "axis": {"orient": "right", "title": null, "values": [15.745, 0, -13.953], "labelExpr": "datum.value == 0 ? '0.00' : format(datum.value, '.3f')", "labelFontSize": 10.5, "tickSize": 3, "labelPadding": 2, "labelAlign": "left", "labelBaseline": "middle", "labelFlush": false, "labelOverlap": false}},
            "y2": {"datum": 0}
          }
        },
        {
          "data": {"name": "signal"},
          "mark": {"type": "line", "color": "black", "strokeWidth": 1, "interpolate": "monotone"},
          "encoding": {
            "x": {"field": "i", "type": "quantitative", "title": null},
            "y": {"field": "s", "type": "quantitative", "title": null}
          }
        },
        {
          "data": {"values": [{}]},
          "mark": {"type": "text", "text": "MACD(12,26,9) 4.232 5.878", "font": "Liberation Sans", "fontSize": 9.5, "color": "black", "align": "left", "baseline": "middle"},
          "encoding": {
            "x": {"datum": 1, "type": "quantitative", "title": null},
            "y": {"datum": 15.4, "type": "quantitative", "title": null}
          }
        }
      ]
    }
  ]
}
